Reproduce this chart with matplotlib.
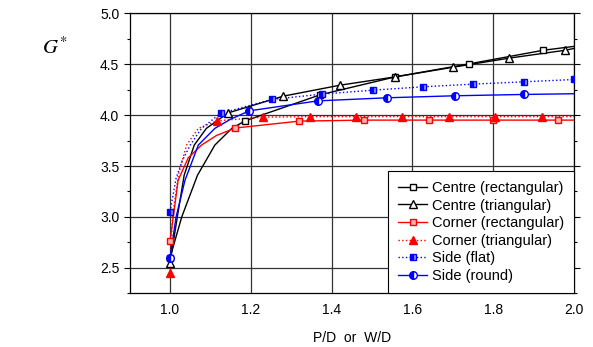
import matplotlib
matplotlib.use('Agg')
import matplotlib.pyplot as plt

plt.rcParams['font.family'] = ['Liberation Sans', 'DejaVu Sans']
plt.rcParams['mathtext.fontset'] = 'stix'

# marker points (x, G*)
cr_x = [1.0, 1.186, 1.372, 1.558, 1.740, 1.924]
cr_y = [2.60, 3.944, 4.20, 4.376, 4.503, 4.637]
ct_x = [1.0, 1.144, 1.280, 1.421, 1.558, 1.700, 1.840, 1.978]
ct_y = [2.55, 4.022, 4.186, 4.294, 4.376, 4.470, 4.560, 4.637]
kr_x = [1.0, 1.161, 1.320, 1.480, 1.640, 1.800, 1.960]
kr_y = [2.765, 3.873, 3.941, 3.951, 3.951, 3.951, 3.951]
kt_x = [1.0, 1.116, 1.231, 1.347, 1.460, 1.575, 1.690, 1.804, 1.920]
kt_y = [2.454, 3.944, 3.980, 3.985, 3.985, 3.985, 3.985, 3.985, 3.985]
sf_x = [1.0, 1.125, 1.252, 1.375, 1.502, 1.626, 1.749, 1.876, 2.0]
sf_y = [3.05, 4.017, 4.154, 4.206, 4.245, 4.278, 4.304, 4.327, 4.350]
sr_x = [1.0, 1.196, 1.366, 1.536, 1.705, 1.876]
sr_y = [2.60, 4.042, 4.140, 4.170, 4.190, 4.203]

# extra points on the fitted curves near P/D = 1
cr_cx = [1.0, 1.029, 1.068, 1.111, 1.153]
cr_cy = [2.60, 3.00, 3.41, 3.706, 3.87]
ct_cx = [1.0, 1.018, 1.035, 1.060, 1.090]
ct_cy = [2.55, 3.00, 3.41, 3.706, 3.87]
kr_cx = [1.0, 1.008, 1.020, 1.045, 1.078, 1.115]
kr_cy = [2.765, 3.00, 3.36, 3.58, 3.706, 3.80]
kt_cx = [1.0, 1.006, 1.0205, 1.041, 1.070]
kt_cy = [2.454, 3.00, 3.41, 3.706, 3.87]
sf_cx = [1.0, 1.015, 1.030, 1.050, 1.078]
sf_cy = [3.05, 3.38, 3.55, 3.706, 3.87]
sr_cx = [1.0, 1.015, 1.037, 1.070, 1.111, 1.150]
sr_cy = [2.60, 3.00, 3.36, 3.706, 3.87, 3.96]
# tail of the fits past the last marker
sr_tx, sr_ty = [2.0], [4.21]
kr_tx, kr_ty = [2.0], [3.951]
kt_tx, kt_ty = [2.0], [3.985]
cr_tx, cr_ty = [2.0], [4.675]
ct_tx, ct_ty = [2.0], [4.655]

fig = plt.figure(figsize=(5.93, 3.47), dpi=100)
ax = fig.add_axes([0.2186, 0.1547, 0.7494, 0.807])


def curve(cx, cy, mx, my, tx=(), ty=()):
    x = list(cx) + list(mx[1:]) + list(tx)
    y = list(cy) + list(my[1:]) + list(ty)
    pts = sorted(zip(x, y))
    return [p[0] for p in pts], [p[1] for p in pts]


series = [
    (cr_x, cr_y, cr_cx, cr_cy, cr_tx, cr_ty, 'Centre (rectangular)',
     dict(color='black', ls='-', marker='s', mfc='white', mec='black', ms=4.5)),
    (ct_x, ct_y, ct_cx, ct_cy, ct_tx, ct_ty, 'Centre (triangular)',
     dict(color='black', ls='-', marker='^', mfc='white', mec='black', ms=5.5)),
    (kr_x, kr_y, kr_cx, kr_cy, kr_tx, kr_ty, 'Corner (rectangular)',
     dict(color='#ff0000', ls='-', marker='s', mfc='#ffb0b0', mec='#ff0000', ms=4.5)),
    (kt_x, kt_y, kt_cx, kt_cy, kt_tx, kt_ty, 'Corner (triangular)',
     dict(color='#ff0000', ls=':', marker='^', mfc='#ff0000', mec='#ff0000', ms=5.5)),
    (sf_x, sf_y, sf_cx, sf_cy, [], [], 'Side (flat)',
     dict(color='#0000ff', ls=':', marker='s', mfc='#0000ff', mec='#0000ff', ms=4.5,
          fillstyle='left', markerfacecoloralt='#9999ff')),
    (sr_x, sr_y, sr_cx, sr_cy, sr_tx, sr_ty, 'Side (round)',
     dict(color='#0000ff', ls='-', marker='o', mfc='#0000ff', mec='#0000ff', ms=5.5,
          fillstyle='left', markerfacecoloralt='white')),
]

handles = []
for mx, my, cx, cy, tx, ty, lab, st in series:
    lx, ly = curve(cx, cy, mx, my, tx, ty)
    ax.plot(lx, ly, color=st['color'], ls=st['ls'], lw=1.0, zorder=3)
    ax.plot(mx, my, ls='none', zorder=4, **{k: v for k, v in st.items() if k not in ('ls', 'color')})
    h, = ax.plot([], [], lw=1.0, label=lab, **st)
    handles.append(h)

ax.set_xlim(0.9, 2.0)
ax.set_ylim(2.25, 5.0)
ax.set_xticks([1.0, 1.2, 1.4, 1.6, 1.8, 2.0])
ax.set_yticks([2.5, 3.0, 3.5, 4.0, 4.5, 5.0])
ax.set_yticks([2.25, 2.75, 3.25, 3.75, 4.25, 4.75], minor=True)
ax.grid(True, which='major', color='#333333', lw=0.9, zorder=1)
ax.set_axisbelow(True)
ax.tick_params(which='both', direction='out', labelsize=10, right=True, width=0.8)
ax.tick_params(which='major', length=4)
ax.tick_params(which='minor', length=2.5)
ax.tick_params(axis='x', length=0, pad=7)
for s in ax.spines.values():
    s.set_linewidth(0.9)

ax.set_xlabel('P/D  or  W/D', fontsize=10, labelpad=10)
fig.text(0.07, 0.845, r'$G^{*}$', fontsize=15, style='italic')

leg = ax.legend(handles=handles, loc='lower right', fontsize=10.5, frameon=True,
                fancybox=False, edgecolor='black', framealpha=1, handlelength=2.0,
                labelspacing=0.25, borderpad=0.7, handletextpad=0.3,
                borderaxespad=0.0, bbox_to_anchor=(1.0, 0.0))
leg.get_frame().set_linewidth(0.8)

fig.savefig('out.png', dpi=100)
